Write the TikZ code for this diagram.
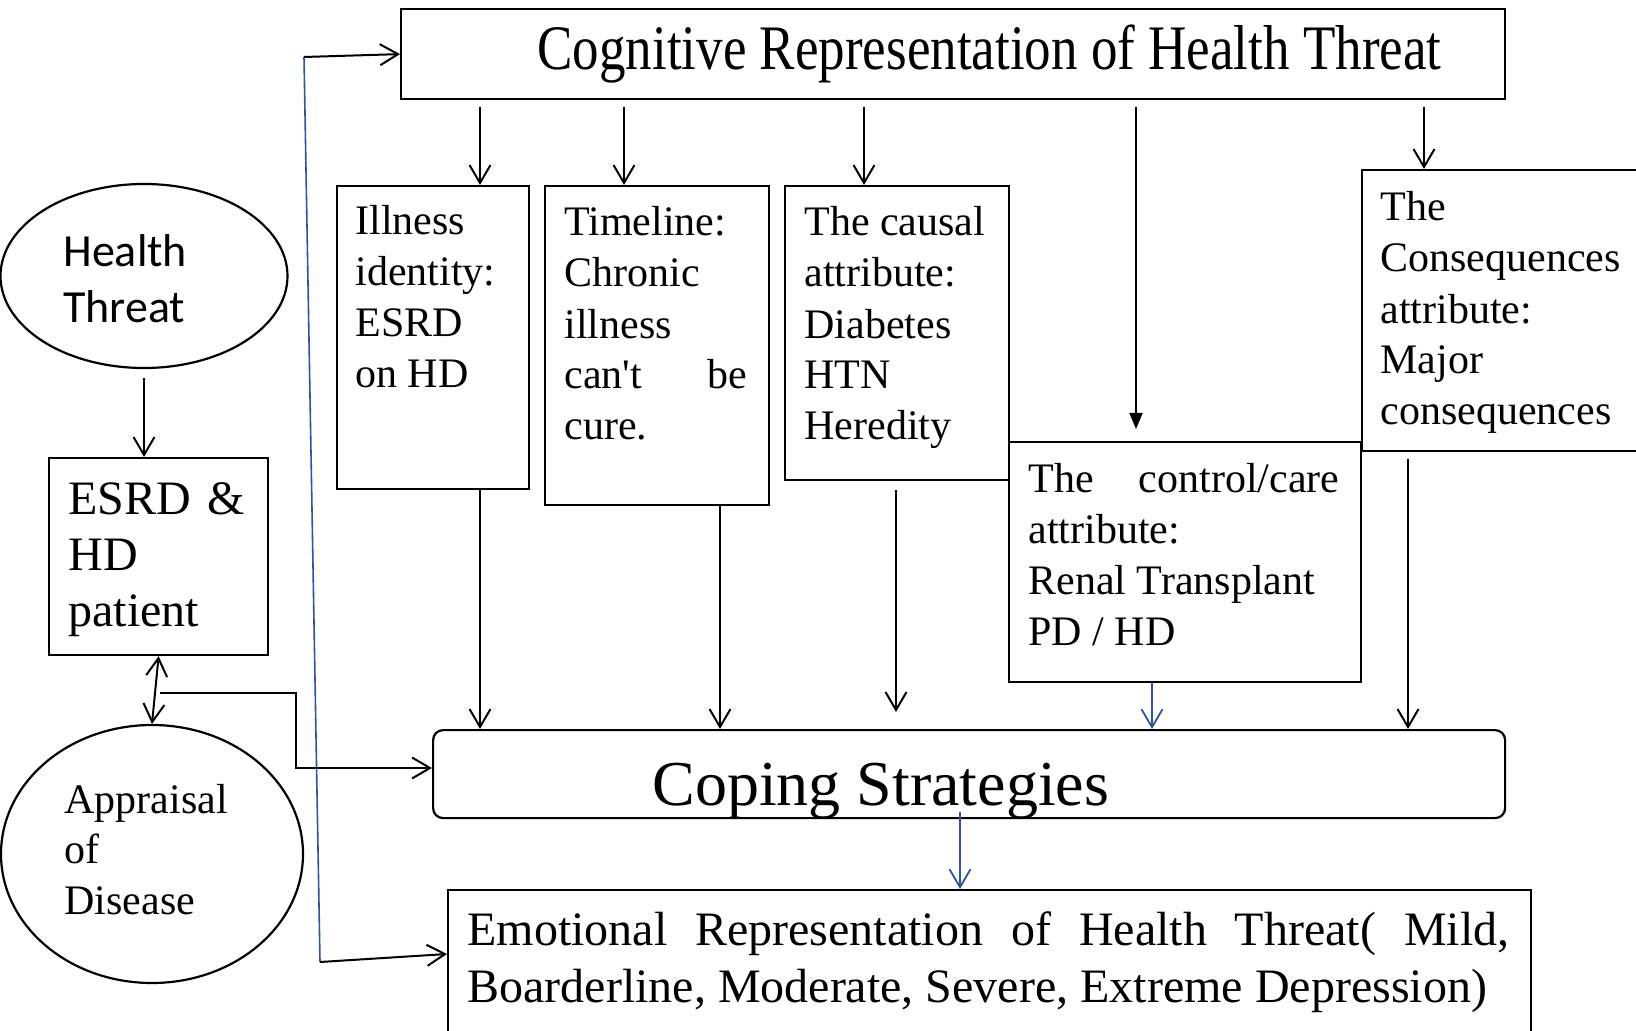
\documentclass[tikz,border=0pt]{standalone}
\usepackage{fontspec}
\setmainfont{Liberation Serif}
\newfontfamily\carl{Carlito}
\usepackage{graphicx}
\usetikzlibrary{arrows.meta,shapes.geometric,calc}
\definecolor{lnblue}{RGB}{47,85,151}
\begin{document}
\begin{tikzpicture}[x=0.5pt,y=-0.5pt,
  box/.style={draw,line width=1.1pt,inner sep=0pt,anchor=north west},
  oval/.style={draw,ellipse,line width=1.1pt,inner sep=0pt},
  txt/.style={inner sep=0pt,anchor=base west,align=left},
  small/.style={font=\fontsize{21}{25.5}\selectfont},
  arr/.style={line width=1pt,-{Straight Barb[length=9pt,width=10.5pt]}},
  darr/.style={line width=1pt,{Straight Barb[length=9pt,width=10.5pt]}-{Straight Barb[length=9pt,width=10.5pt]}},
  farr/.style={line width=1pt,-{Triangle[length=8pt,width=6.5pt]}},
  barr/.style={line width=0.9pt,draw=lnblue,-{Straight Barb[length=9pt,width=10.5pt]}},
  bline/.style={line width=0.8pt,draw=lnblue}]
\useasboundingbox (0,0) rectangle (1636,1031);
\clip (0,0) rectangle (1636,1031);
\fill[white] (0,0) rectangle (1636,1031);

% top box
\node[box,minimum width=552pt,minimum height=45pt] (cog) at (400,8) {};
\node[txt,font=\fontsize{31.7}{38}\selectfont] (cogt) at (537,70) {\resizebox{452pt}{\height}{Cognitive Representation of Health Threat}};

% left column (text anchors at the baseline of the last line)
\node[oval,minimum width=143.5pt,minimum height=92pt] (ht) at (144,276) {};
\node[txt,font=\carl\fontsize{23}{28}\selectfont] (htt) at (63,323) {Health\\Threat};
\node[box,minimum width=109.5pt,minimum height=98.5pt] (esrd) at (48,457) {};
\node[txt,font=\fontsize{24}{28}\selectfont] (esrdt) at (68,626) {\makebox[88pt][s]{ESRD \&}\\HD\\patient};
\node[oval,minimum width=151pt,minimum height=129pt] (app) at (152,854) {};
\node[txt,font=\fontsize{21}{25.25}\selectfont] (appt) at (64,914) {Appraisal\\of\\Disease};

% attribute boxes
\node[box,minimum width=96pt,minimum height=151.5pt] (ill) at (336,185) {};
\node[txt,small] (illt) at (355,388) {Illness\\identity:\\ESRD\\on HD};
\node[box,minimum width=112pt,minimum height=159.5pt] (tim) at (544,185) {};
\node[txt,small] (timt) at (564,440) {Timeline:\\Chronic\\illness\\\makebox[91.5pt][s]{can\textquotesingle t be}\\cure.};
\node[box,minimum width=112pt,minimum height=147pt] (cau) at (784,185) {};
\node[txt,small] (caut) at (804,440) {The causal\\attribute:\\Diabetes\\HTN\\Heredity};
\node[box,minimum width=176pt,minimum height=120pt] (ctl) at (1008,441) {};
\node[txt,small] (ctlt) at (1028,645) {\makebox[155.5pt][s]{The control/care}\\attribute:\\Renal Transplant\\PD / HD};
\node[box,minimum width=150pt,minimum height=140.5pt] (con) at (1361,169) {};
\node[txt,small] (cont) at (1380,425) {The\\Consequences\\attribute:\\Major\\consequences};

% coping and emotional
\node[box,rounded corners=5pt,minimum width=536pt,minimum height=44pt] (cope) at (432,729) {};
\node[txt,font=\fontsize{32}{38}\selectfont] (copet) at (652,805) {Coping Strategies};
\node[box,minimum width=541.5pt,minimum height=80pt] (emo) at (447,889) {};
\node[txt,font=\fontsize{24}{28.5}\selectfont] (emot) at (467,1002) {\makebox[521pt][s]{Emotional Representation of Health Threat( Mild,}\\Boarderline, Moderate, Severe, Extreme Depression)};

% column coordinates
\coordinate (k1) at (480,0);
\coordinate (k2) at (624,0);
\coordinate (k3) at (864,0);
\coordinate (k4) at (1136,0);
\coordinate (k5) at (1424,0);
\coordinate (m2) at (720,0);
\coordinate (m3) at (896,0);
\coordinate (m4) at (1152,0);
\coordinate (m5) at (1408,0);
\coordinate (m6) at (960,0);
\coordinate (ctlend) at (1136,429);
\coordinate (cauend) at (896,712);

% top arrows
\draw[arr] (k1 |- cog.south) ++(0,7) -- (k1 |- ill.north);
\draw[arr] (k2 |- cog.south) ++(0,7) -- (k2 |- tim.north);
\draw[arr] (k3 |- cog.south) ++(0,7) -- (k3 |- cau.north);
\draw[farr] (k4 |- cog.south) ++(0,7) -- (ctlend);
\draw[arr] (k5 |- cog.south) ++(0,7) -- (k5 |- con.north);

% arrows into coping
\draw[arr] (k1 |- ill.south) -- (k1 |- cope.north);
\draw[arr] (m2 |- tim.south) -- (m2 |- cope.north);
\draw[arr] (m3 |- cau.south) ++(0,9) -- (cauend);
\draw[barr] (m4 |- ctl.south) -- (m4 |- cope.north);
\draw[arr] (m5 |- con.south) ++(0,7) -- (m5 |- cope.north);
\draw[barr] (m6 |- cope.south) ++(0,-7) -- (m6 |- emo.north);

% left connectors
\draw[arr] (ht.south) ++(0,9) -- (ht.south |- esrd.north);
\draw[darr] (esrd.south) -- (app.north);
\coordinate (e0) at (160,693);
\coordinate (e1) at (296,768);
\draw[arr] (e0) -| (e1) -- (cope.west |- e1);

% long feedback line
\coordinate (b1) at (304,57);
\coordinate (b2) at (320,962);
\coordinate (b3) at ($(emo.north west)+(0,65)$);
\draw[bline] (b1) -- (b2);
\draw[arr] (b1) -- (cog.west);
\draw[arr] (b2) -- (b3);
\end{tikzpicture}
\end{document}
